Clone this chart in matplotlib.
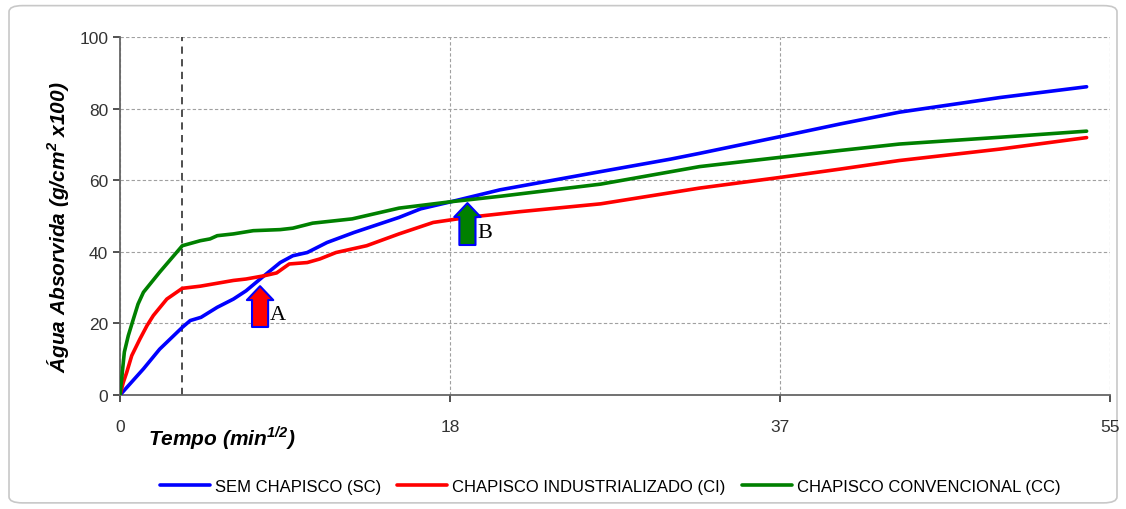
import matplotlib.pyplot as plt
from matplotlib.patches import FancyBboxPatch

plt.rcParams['font.family'] = ['Liberation Sans', 'DejaVu Sans']
plt.rcParams['mathtext.fontset'] = 'custom'
plt.rcParams['mathtext.bf'] = 'Liberation Sans:bold:italic'

# x = sqrt(time), y = absorbed water
sc_x = [0, 1.3, 2.2, 3.46, 3.9, 4.5, 5.4, 6.3, 7.0, 8.0, 8.9, 9.6, 10.4, 11.5, 13.0, 15.5,
        16.7, 18.4, 21.1, 26.7, 30.6, 32.2, 36.7, 40.0, 43.3, 48.9, 53.7]
sc_y = [0, 7.3, 12.8, 18.9, 20.8, 21.7, 24.5, 26.8, 29.1, 33.3, 37.0, 38.9, 39.8, 42.6, 45.4, 49.6,
        52.0, 54.0, 57.3, 62.4, 65.9, 67.5, 72.2, 75.7, 79.0, 83.1, 86.1]

ci_x = [0, 0.18, 0.37, 0.65, 1.1, 1.5, 1.85, 2.6, 3.46, 4.46, 6.3, 7.0, 8.0, 8.7, 9.4, 10.4, 11.1, 12.0,
        13.7, 15.5, 17.4, 19.3, 22.2, 26.7, 32.2, 36.7, 40.0, 43.3, 48.9, 53.7]
ci_y = [0, 3.5, 6.3, 11.0, 15.6, 19.4, 22.2, 26.8, 29.8, 30.4, 32.0, 32.4, 33.3, 34.1, 36.6, 37.0, 38.0, 39.8,
        41.7, 45.0, 48.2, 49.6, 51.2, 53.4, 57.8, 60.8, 63.1, 65.5, 68.7, 71.9]

cc_x = [0, 0.24, 0.46, 0.74, 1.0, 1.3, 2.2, 3.46, 4.46, 5.0, 5.4, 6.3, 7.4, 8.9, 9.6, 10.7, 12.9, 15.5,
        18.4, 21.1, 26.7, 32.2, 36.7, 40.0, 43.3, 48.9, 53.7]
cc_y = [0, 12.0, 16.6, 21.2, 25.4, 28.7, 34.3, 41.7, 43.1, 43.6, 44.5, 45.0, 45.9, 46.2, 46.6, 48.0, 49.2, 52.2,
        54.0, 55.5, 58.9, 63.8, 66.4, 68.3, 70.1, 72.0, 73.7]

series_labels = ['SEM CHAPISCO (SC)', 'CHAPISCO INDUSTRIALIZADO (CI)', 'CHAPISCO CONVENCIONAL (CC)']
series_colors = ['#0000ff', '#ff0000', '#008000']

x_ticks = [0, 55 / 3, 110 / 3, 55]
x_tick_labels = ['0', '18', '37', '55']
y_ticks = [0, 20, 40, 60, 80, 100]
marker_x = 3.46

# arrows: label, x, tail y, tip y, fill colour
arrow_labels = ['A', 'B']
arrow_x = [7.78, 19.3]
arrow_tail = [19.0, 41.9]
arrow_tip = [30.4, 53.6]
arrow_fill = ['#ff0000', '#008000']

fig = plt.figure(figsize=(11.26, 5.1), dpi=100)
fig.patches.append(FancyBboxPatch((0.008, 0.012), 0.984, 0.975, boxstyle='round,pad=0,rounding_size=0.012',
                                  transform=fig.transFigure, fc='white', ec='#c8c8c8', lw=1.2, zorder=-10))
ax = fig.add_axes([0.1066, 0.2235, 0.8792, 0.702])
ax.set_facecolor('none')

for xs, ys, c, lab in zip([sc_x, ci_x, cc_x], [sc_y, ci_y, cc_y], series_colors, series_labels):
    ax.plot(xs, ys, color=c, lw=2.6, label=lab, solid_capstyle='round', solid_joinstyle='round', zorder=3)

ax.axvline(marker_x, color='#404040', lw=1.3, ls=(0, (4, 3)), zorder=2)

for lab, xa, y0, y1, fc in zip(arrow_labels, arrow_x, arrow_tail, arrow_tip, arrow_fill):
    ax.annotate('', xy=(xa, y1), xytext=(xa, y0),
                arrowprops=dict(arrowstyle='simple,head_length=0.5,head_width=0.95,tail_width=0.58',
                                mutation_scale=20, fc=fc, ec='#0000ff', lw=1.5, shrinkA=0, shrinkB=0), zorder=4)
    ax.text(xa + 0.55, y0 + 2.1, lab, fontsize=16, family='Liberation Serif', va='baseline', ha='left', zorder=5)

ax.set_xlim(0, 55)
ax.set_ylim(0, 100)
ax.set_xticks(x_ticks)
ax.set_xticklabels(x_tick_labels)
ax.set_yticks(y_ticks)
ax.tick_params(axis='both', labelsize=12.5, colors='#333333', length=5, width=1.2)
ax.tick_params(axis='x', pad=12)
ax.grid(True, ls=(0, (3, 2)), color='#a0a0a0', lw=0.8)
for s in ['top', 'right']:
    ax.spines[s].set_visible(False)
for s in ['left', 'bottom']:
    ax.spines[s].set_color('#666666')
    ax.spines[s].set_linewidth(1.3)

ax.set_ylabel('Água Absorvida (g/cm$^{\\mathbf{2}}$ x100)', fontsize=15, fontweight='bold', style='italic')
ax.yaxis.set_label_coords(-0.0485, 0.472)
fig.text(0.197, 0.142, 'Tempo (min$^{\\mathbf{1/2}}$)', fontsize=15, fontweight='bold', style='italic',
         ha='center', va='center')

fig.legend(loc='center', bbox_to_anchor=(0.542, 0.045), ncol=3, frameon=False, fontsize=12,
           handlelength=3.0, handletextpad=0.3, columnspacing=1.0)

fig.savefig('out.png', dpi=100)
